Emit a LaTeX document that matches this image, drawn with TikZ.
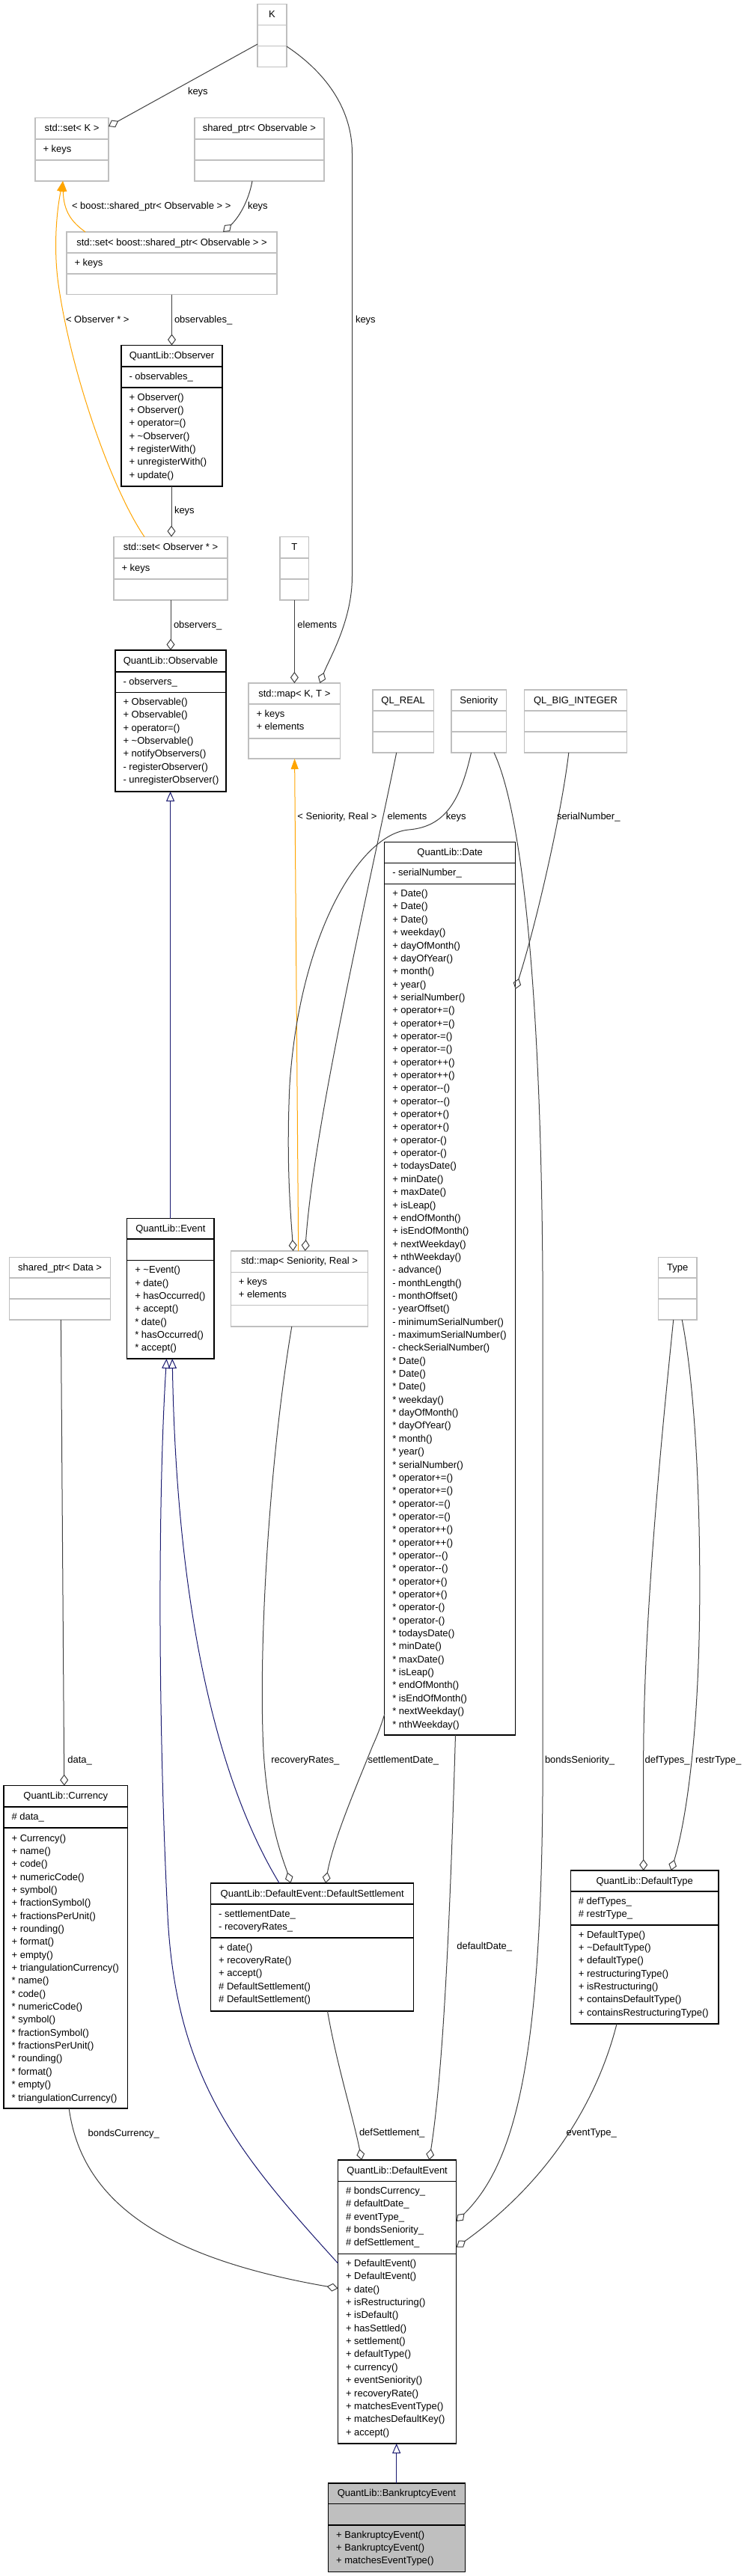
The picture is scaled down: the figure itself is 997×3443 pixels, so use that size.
\documentclass[tikz,border=0pt]{standalone}
\usepackage{fontspec}
\setmainfont{Liberation Sans}
\usetikzlibrary{arrows.meta,calc}
\definecolor{edgegray}{HTML}{404040}
\definecolor{boxgray}{HTML}{BFBFBF}
\definecolor{inhblue}{HTML}{191970}
\definecolor{tmplorange}{HTML}{FFA500}
\newcommand\umlbox[8]{%
  \node[#2, minimum width={#4-#3}, minimum height={#8-#5}] (#1) at ({(#3+#4)/2},{(#5+#8)/2}) {};
  \path[#2div] (#3,#6) -- (#4,#6) (#3,#7) -- (#4,#7);}
\newcommand\umllines[4]{\foreach \t [count=\i from 0] in {#4} {\node[txt] (#1\i) at (#2,{#3+\i*17.35}) {\t};}}
\begin{document}
\begin{tikzpicture}[x=1pt,y=-1pt,
 every node/.style={inner sep=0pt, outer sep=0pt},
 txt/.style={anchor=base west, font=\fontsize{13}{15}\selectfont},
 ttl/.style={anchor=base, font=\fontsize{13}{15}\selectfont},
 lbl/.style={anchor=west, text height=9.4pt, text depth=0pt, font=\fontsize{13}{15}\selectfont},
 gbox/.style={draw=boxgray, line width=1.2pt, fill=white},
 gboxdiv/.style={draw=boxgray, line width=1.2pt},
 kbox/.style={draw=black, line width=1.3pt, fill=white},
 kboxdiv/.style={draw=black, line width=1.3pt},
 sbox/.style={draw=black, line width=1.3pt, fill=boxgray},
 sboxdiv/.style={draw=black, line width=1.3pt},
 usage/.style={draw=edgegray, line width=1pt, -{Diamond[open,length=15pt,width=11pt]}},
 inh/.style={draw=inhblue, line width=1pt, -{Triangle[open,length=13pt,width=11pt]}},
 tmpl/.style={draw=tmplorange, line width=1pt, -{Triangle[length=14pt,width=10pt]}},
]
\fill[white] (0,0) rectangle (997,3443);
\useasboundingbox (0,0) rectangle (997,3443);

% ---------- boxes ----------
\umlbox{K}{gbox}{344}{383}{5.5}{33.5}{61.5}{89.5}
\node[ttl] (Kt) at (363.5,23.5) {K};

\umlbox{setK}{gbox}{47}{145}{157.5}{186}{214}{242}
\node[ttl] (setKt) at (96,175.5) {std::set< K >};
\umllines{setKa}{57.5}{203}{+ keys}

\umlbox{shp}{gbox}{260}{433}{157.5}{186}{214}{242}
\node[ttl] (shpt) at (346.5,175.5) {shared\_ptr< Observable >};

\umlbox{setB}{gbox}{89}{370}{310}{338}{366}{393.5}
\node[ttl] (setBt) at (229.5,328) {std::set< boost::shared\_ptr< Observable > >};
\umllines{setBa}{99.5}{355}{+ keys}

\umlbox{Observer}{kbox}{162}{297}{461.5}{490}{518}{650}
\node[ttl] (Observert) at (229.5,479.5) {QuantLib::Observer};
\umllines{Observera}{172.5}{507}{- observables\_}
\umllines{Observerm}{172.5}{535}{+ Observer(), + Observer(), + operator=(), + \textasciitilde Observer(), + registerWith(), + unregisterWith(), + update()}

\umlbox{setO}{gbox}{152}{304}{717.5}{746}{774}{802}
\node[ttl] (setOt) at (228,735.5) {std::set< Observer * >};
\umllines{setOa}{162.5}{763}{+ keys}

\umlbox{T}{gbox}{374}{412.7}{717.5}{746}{774}{802}
\node[ttl] (Tt) at (393.35,735.5) {T};

\umlbox{Observable}{kbox}{154}{302}{869}{898}{925.5}{1058}
\node[ttl] (Observablet) at (228,887) {QuantLib::Observable};
\umllines{Observablea}{164.5}{915}{- observers\_}
\umllines{Observablem}{164.5}{942.5}{+ Observable(), + Observable(), + operator=(), + \textasciitilde Observable(), + notifyObservers(), - registerObserver(), - unregisterObserver()}

\umlbox{mapKT}{gbox}{332}{454.6}{913}{941}{987}{1014}
\node[ttl] (mapKTt) at (393.3,931) {std::map< K, T >};
\umllines{mapKTa}{342.5}{958}{+ keys, + elements}

\umlbox{QLREAL}{gbox}{498}{579.3}{922}{950}{978}{1006}
\node[ttl] (QLREALt) at (538.65,940) {QL\_REAL};

\umlbox{Seniority}{gbox}{603}{676.5}{922}{950}{978}{1006}
\node[ttl] (Seniorityt) at (639.75,940) {Seniority};

\umlbox{QLBI}{gbox}{700.7}{837.4}{922}{950}{978}{1006}
\node[ttl] (QLBIt) at (769.05,940) {QL\_BIG\_INTEGER};

\umlbox{Date}{kbox}{513.8}{688.6}{1125.5}{1153.6}{1181.6}{2319}
\node[ttl] (Datet) at (601.2,1143) {QuantLib::Date};
\umllines{Datea}{524.3}{1170.6}{- serialNumber\_}
\umllines{Datem}{524.3}{1198.6}{+ Date(), + Date(), + Date(), + weekday(), + dayOfMonth(), + dayOfYear(), + month(), + year(), + serialNumber(), + operator+=(), + operator+=(), + operator-=(), + operator-=(), + operator++(), + operator++(), + operator-{}-(), + operator-{}-(), + operator+(), + operator+(), + operator-(), + operator-(), + todaysDate(), + minDate(), + maxDate(), + isLeap(), + endOfMonth(), + isEndOfMonth(), + nextWeekday(), + nthWeekday(), - advance(), - monthLength(), - monthOffset(), - yearOffset(), - minimumSerialNumber(), - maximumSerialNumber(), - checkSerialNumber(), * Date(), * Date(), * Date(), * weekday(), * dayOfMonth(), * dayOfYear(), * month(), * year(), * serialNumber(), * operator+=(), * operator+=(), * operator-=(), * operator-=(), * operator++(), * operator++(), * operator-{}-(), * operator-{}-(), * operator+(), * operator+(), * operator-(), * operator-(), * todaysDate(), * minDate(), * maxDate(), * isLeap(), * endOfMonth(), * isEndOfMonth(), * nextWeekday(), * nthWeekday()}

\umlbox{Event}{kbox}{169.8}{286.1}{1628.6}{1656}{1684.7}{1816}
\node[ttl] (Eventt) at (227.95,1646.3) {QuantLib::Event};
\umllines{Eventm}{180.3}{1701.7}{+ \textasciitilde Event(), + date(), + hasOccurred(), + accept(), * date(), * hasOccurred(), * accept()}

\umlbox{shpData}{gbox}{12.7}{147.5}{1680.6}{1708}{1736}{1764}
\node[ttl] (shpDatat) at (80.1,1698.3) {shared\_ptr< Data >};

\umlbox{mapSR}{gbox}{308.4}{491.5}{1672}{1700.5}{1744.4}{1773}
\node[ttl] (mapSRt) at (399.95,1689.7) {std::map< Seniority, Real >};
\umllines{mapSRa}{318.9}{1717.5}{+ keys, + elements}

\umlbox{Type}{gbox}{879.4}{930.9}{1680.6}{1708}{1736}{1764}
\node[ttl] (Typet) at (905.15,1698.3) {Type};

\umlbox{Currency}{kbox}{5.1}{170.4}{2386.6}{2415}{2443}{2818}
\node[ttl] (Currencyt) at (87.75,2404.3) {QuantLib::Currency};
\umllines{Currencya}{15.6}{2432}{\# data\_}
\umllines{Currencym}{15.6}{2461}{+ Currency(), + name(), + code(), + numericCode(), + symbol(), + fractionSymbol(), + fractionsPerUnit(), + rounding(), + format(), + empty(), + triangulationCurrency(), * name(), * code(), * numericCode(), * symbol(), * fractionSymbol(), * fractionsPerUnit(), * rounding(), * format(), * empty(), * triangulationCurrency()}

\umlbox{DefSettle}{kbox}{281.7}{552.6}{2517}{2545}{2590}{2688}
\node[ttl] (DefSettlet) at (417.15,2535) {QuantLib::DefaultEvent::DefaultSettlement};
\umllines{DefSettlea}{292.2}{2562}{- settlementDate\_, - recoveryRates\_}
\umllines{DefSettlem}{292.2}{2607}{+ date(), + recoveryRate(), + accept(), \# DefaultSettlement(), \# DefaultSettlement()}

\umlbox{DefType}{kbox}{762.4}{960.1}{2500}{2528}{2573}{2705}
\node[ttl] (DefTypet) at (861.25,2518) {QuantLib::DefaultType};
\umllines{DefTypea}{772.9}{2545}{\# defTypes\_, \# restrType\_}
\umllines{DefTypem}{772.9}{2590}{+ DefaultType(), + \textasciitilde DefaultType(), + defaultType(), + restructuringType(), + isRestructuring(), + containsDefaultType(), + containsRestructuringType()}

\umlbox{DefEvent}{kbox}{451.5}{609.8}{2887}{2915.5}{3012.5}{3266}
\node[ttl] (DefEventt) at (530.65,2905) {QuantLib::DefaultEvent};
\umllines{DefEventa}{462}{2932.5}{\# bondsCurrency\_, \# defaultDate\_, \# eventType\_, \# bondsSeniority\_, \# defSettlement\_}
\umllines{DefEventm}{462}{3029.5}{+ DefaultEvent(), + DefaultEvent(), + date(), + isRestructuring(), + isDefault(), + hasSettled(), + settlement(), + defaultType(), + currency(), + eventSeniority(), + recoveryRate(), + matchesEventType(), + matchesDefaultKey(), + accept()}

\umlbox{Bankr}{sbox}{438.7}{621.2}{3319}{3346.5}{3375}{3437.5}
\node[ttl] (Bankrt) at (529.95,3336.5) {QuantLib::BankruptcyEvent};
\umllines{Bankrm}{449.2}{3392}{+ BankruptcyEvent(), + BankruptcyEvent(), + matchesEventType()}

% ---------- connectors ----------
\draw[usage] (K.west |- 0,59) -- (setK.east |- 0,169);
\draw[usage] (337,0 |- shp.south) .. controls (332,270) and (318,292) .. (298,0 |- setB.north);
\draw[tmpl] (114,0 |- setB.north) .. controls (96,297) and (85,283) .. (84,0 |- setK.south);
\draw[tmpl] (193,0 |- setO.north) .. controls (150,655) and (95,500) .. (78,380) .. controls (71,330) and (76,280) .. (84,0 |- setK.south);
\draw[usage] (229.5,0 |- setB.south) -- (229.5,0 |- Observer.north);
\draw[usage] (229,0 |- Observer.south) -- (229,0 |- setO.north);
\draw[usage] (228,0 |- setO.south) -- (228,0 |- Observable.north);
\draw[usage] (393.4,0 |- T.south) -- (393.4,0 |- mapKT.north);
\draw[usage] (K.east |- 0,62) .. controls (440,100) and (470.5,150) .. (470.5,205) -- (470.5,770) .. controls (470.5,830) and (440,880) .. (427.3,0 |- mapKT.north);
\draw[tmpl] (398.7,0 |- mapSR.north) -- (393.6,0 |- mapKT.south);
\draw[usage] (529.7,0 |- QLREAL.south) .. controls (490,1200) and (420,1500) .. (407.6,0 |- mapSR.north);
\draw[usage] (629.5,0 |- Seniority.south) .. controls (615,1070) and (595,1105) .. (546,1109) .. controls (480,1115) and (400,1250) .. (387,1450) .. controls (382,1560) and (389,1630) .. (391.7,0 |- mapSR.north);
\draw[usage] (389.8,0 |- mapSR.south) .. controls (360,1950) and (345,2200) .. (352,2340) .. controls (358,2440) and (380,2490) .. (388.5,0 |- DefSettle.north);
\draw[usage] (Date.west |- 0,2291) .. controls (508,2310) and (503,2322) .. (498,2333) .. controls (475,2390) and (445,2460) .. (434.9,0 |- DefSettle.north);
\draw[usage] (759.8,0 |- QLBI.south) .. controls (750,1090) and (715,1240) .. (Date.east |- 0,1322);
\draw[usage] (660,0 |- Seniority.south) .. controls (695,1080) and (722,1300) .. (725,1700) -- (725,2400) .. controls (722,2750) and (690,2890) .. (DefEvent.east |- 0,2969);
\draw[usage] (608.5,0 |- Date.south) .. controls (603,2500) and (595,2750) .. (573.5,0 |- DefEvent.north);
\draw[usage] (81.4,0 |- shpData.south) -- (85.8,0 |- Currency.north);
\draw[usage] (899.7,0 |- Type.south) .. controls (888,1880) and (860,2150) .. (859.7,2350) -- (859.7,0 |- DefType.north);
\draw[usage] (911.2,0 |- Type.south) .. controls (928,1850) and (936,2000) .. (934.7,2150) .. controls (933,2330) and (915,2440) .. (896.5,0 |- DefType.north);
\draw[usage] (437.5,0 |- DefSettle.south) .. controls (450,2760) and (472,2830) .. (483.2,0 |- DefEvent.north);
\draw[usage] (824,0 |- DefType.south) .. controls (800,2800) and (740,2910) .. (DefEvent.east |- 0,3003.5);
\draw[usage] (92.2,0 |- Currency.south) .. controls (110,2950) and (230,3020) .. (DefEvent.west |- 0,3058.5);
\draw[inh] (227.6,0 |- Event.north) -- (227.6,0 |- Observable.south);
\draw[inh] (373.2,0 |- DefSettle.north) .. controls (290,2380) and (236,2150) .. (230.2,0 |- Event.south);
\draw[inh] (DefEvent.west |- 0,3025) .. controls (320,2880) and (235,2780) .. (224,2560) .. controls (211,2300) and (211,2000) .. (222.5,0 |- Event.south);
\draw[inh] (529.7,0 |- Bankr.north) -- (529.7,0 |- DefEvent.south);

% ---------- connector labels ----------
\node[lbl] (L1) at (251,122) {keys};
\node[lbl] (L2) at (96,275) {< boost::shared\_ptr< Observable > >};
\node[lbl] (L3) at (331,275) {keys};
\node[lbl] (L4) at (88,427) {< Observer * >};
\node[lbl] (L5) at (233,427) {observables\_};
\node[lbl] (L6) at (475,427) {keys};
\node[lbl] (L7) at (233,682) {keys};
\node[lbl] (L8) at (232,835) {observers\_};
\node[lbl] (L9) at (397.4,835) {elements};
\node[lbl] (L10) at (397.4,1091) {< Seniority, Real >};
\node[lbl] (L11) at (517.6,1091) {elements};
\node[lbl] (L12) at (595.8,1091) {keys};
\node[lbl] (L13) at (744,1091) {serialNumber\_};
\node[lbl] (L14) at (90.3,2352) {data\_};
\node[lbl] (L15) at (362.4,2352) {recoveryRates\_};
\node[lbl] (L16) at (491.5,2352) {settlementDate\_};
\node[lbl] (L17) at (728,2352) {bondsSeniority\_};
\node[lbl] (L18) at (861.6,2352) {defTypes\_};
\node[lbl] (L19) at (929,2352) {restrType\_};
\node[lbl] (L20) at (610.4,2601) {defaultDate\_};
\node[lbl] (L21) at (117.6,2850.5) {bondsCurrency\_};
\node[lbl] (L22) at (480,2850) {defSettlement\_};
\node[lbl] (L23) at (756.7,2850) {eventType\_};
\end{tikzpicture}
\end{document}
